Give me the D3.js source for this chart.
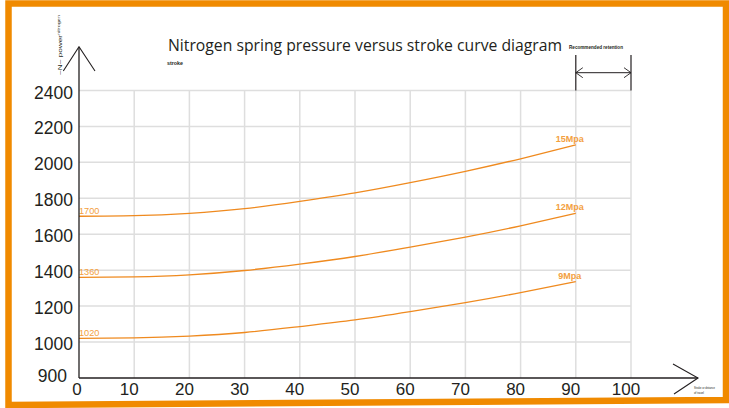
<!DOCTYPE html>
<html><head><meta charset="utf-8">
<script src="https://cdn.jsdelivr.net/npm/d3@7"></script>
<style>html,body{margin:0;padding:0;background:#fff;}svg{display:block;}</style>
</head><body>
<script>
// ---- data ----
const strokes = [0, 10, 20, 30, 40, 50, 60, 70, 80, 90];
const series15 = [1700, 1703, 1716, 1742, 1783, 1830, 1887, 1950, 2020, 2097];
const series12 = [1360, 1363, 1374, 1398, 1434, 1476, 1528, 1584, 1647, 1716];
const series9  = [1020, 1023, 1033, 1053, 1086, 1123, 1169, 1219, 1275, 1336];
const seriesNames = ["15Mpa", "12Mpa", "9Mpa"];
const startLabels = ["1700", "1360", "1020"];
const xTicks = [0, 10, 20, 30, 40, 50, 60, 70, 80, 90, 100];
const yTicks = [900, 1000, 1200, 1400, 1600, 1800, 2000, 2200, 2400];
const title = "Nitrogen spring pressure versus stroke curve diagram";

const W = 729, H = 408;
const svg = d3.select("body").append("svg").attr("width", W).attr("height", H);

// scales (y axis broken between 900 and 1000)
const x = d3.scaleLinear().domain([0, 100]).range([79, 631]);
const y = d3.scaleLinear().domain([900, 1000, 2400]).range([378, 342, 90.5]);

const ink = "#231F20", grid = "#DEDEDE", curveCol = "#EF8A1F", lblCol = "#F3A040";

// border
svg.append("path")
  .attr("d", "M8.5,3.5 L726,3.5 L726,400 L8.5,405 Z")
  .attr("fill", "none").attr("stroke", "#F08A00").attr("stroke-width", 6.5)
  .attr("stroke-linejoin", "miter");

// gridlines
const g = svg.append("g");
g.selectAll("line.h").data(yTicks.filter(d => d > 900)).join("line")
  .attr("x1", x(0)).attr("x2", x(100))
  .attr("y1", d => y(d)).attr("y2", d => y(d))
  .attr("stroke", grid).attr("stroke-width", 1.5);
g.selectAll("line.v").data(xTicks.filter(d => d > 0)).join("line")
  .attr("x1", d => x(d)).attr("x2", d => x(d))
  .attr("y1", y(2400)).attr("y2", y(900))
  .attr("stroke", grid).attr("stroke-width", 1.5);

// curves
const line = d3.line().x((d, i) => x(strokes[i])).y(d => y(d)).curve(d3.curveNatural);
const all = [series15, series12, series9];
all.forEach((s, k) => {
  svg.append("path").attr("d", line(s)).attr("fill", "none")
    .attr("stroke", curveCol).attr("stroke-width", 1.3);
  svg.append("text").attr("x", x(strokes[strokes.length - 1]) - 6).attr("y", y(s[s.length - 1]) - 3)
    .attr("text-anchor", "middle").attr("font-family", "Liberation Sans, Arial, sans-serif")
    .attr("font-size", 9).attr("font-weight", "bold").attr("fill", lblCol).text(seriesNames[k]);
  svg.append("text").attr("x", x(0)).attr("y", y(s[0]) - 2.5)
    .attr("font-family", "Liberation Sans, Arial, sans-serif")
    .attr("font-size", 9.2).attr("fill", lblCol).text(startLabels[k]);
});

// axes lines
svg.append("line").attr("x1", x(0)).attr("x2", x(0)).attr("y1", 47).attr("y2", y(900))
  .attr("stroke", ink).attr("stroke-width", 1.3);
svg.append("line").attr("x1", x(0)).attr("x2", 698).attr("y1", y(900)).attr("y2", y(900))
  .attr("stroke", ink).attr("stroke-width", 1.3);
// y arrow
svg.append("path").attr("d", `M63.3,71 L${x(0)},46.7 L95,71`).attr("fill", "none")
  .attr("stroke", ink).attr("stroke-width", 1.1);
// x arrow
svg.append("path").attr("d", `M673,364 L698,378 L674,394`).attr("fill", "none")
  .attr("stroke", ink).attr("stroke-width", 1.1);

// tick labels
svg.append("g").selectAll("text").data(xTicks).join("text")
  .attr("x", d => x(d) - (d === 0 ? 2 : 5)).attr("y", 394.5)
  .attr("text-anchor", "middle").attr("font-family", "Liberation Sans, Arial, sans-serif")
  .attr("font-size", 17).attr("fill", ink).text(d => d);
svg.append("g").selectAll("text").data(yTicks).join("text")
  .attr("x", d => d === 900 ? 67 : 73).attr("y", d => y(d) + (d === 900 ? 4 : 8))
  .attr("text-anchor", "end").attr("font-family", "Liberation Sans, Arial, sans-serif")
  .attr("font-size", 17.5).attr("fill", ink).text(d => d);

// title
svg.append("text").attr("x", 168).attr("y", 51).attr("font-family", "Open Sans, sans-serif")
  .attr("font-size", 16).attr("fill", ink).attr("textLength", 394).attr("lengthAdjust", "spacingAndGlyphs")
  .text(title);
svg.append("text").attr("x", 167).attr("y", 65).attr("font-family", "Liberation Sans, Arial, sans-serif")
  .attr("font-size", 5).attr("font-weight", "bold").attr("fill", ink)
  .attr("textLength", 16).attr("lengthAdjust", "spacingAndGlyphs").text("stroke");

// recommended retention
svg.append("text").attr("x", 569).attr("y", 49).attr("font-family", "Liberation Sans, Arial, sans-serif")
  .attr("font-size", 5).attr("font-weight", "bold").attr("fill", ink)
  .attr("textLength", 54).attr("lengthAdjust", "spacingAndGlyphs").text("Recommended retention");
[90, 100].forEach(v => {
  svg.append("line").attr("x1", x(v)).attr("x2", x(v)).attr("y1", 55).attr("y2", y(2400))
    .attr("stroke", ink).attr("stroke-width", 1.2);
});
const ay = 72.7;
svg.append("line").attr("x1", x(90)).attr("x2", x(100)).attr("y1", ay).attr("y2", ay)
  .attr("stroke", ink).attr("stroke-width", 1);
svg.append("path").attr("d", `M${x(90) + 7},${ay - 5} L${x(90)},${ay} L${x(90) + 7},${ay + 5}`)
  .attr("fill", "none").attr("stroke", ink).attr("stroke-width", 0.9);
svg.append("path").attr("d", `M${x(100) - 7},${ay - 5} L${x(100)},${ay} L${x(100) - 7},${ay + 5}`)
  .attr("fill", "none").attr("stroke", ink).attr("stroke-width", 0.9);

// x axis name (tiny)
svg.append("text").attr("x", 694).attr("y", 389).attr("font-family", "Liberation Sans, Arial, sans-serif")
  .attr("font-size", 3.2).attr("fill", ink).attr("textLength", 21).attr("lengthAdjust", "spacingAndGlyphs")
  .text("Stroke or distance");
svg.append("text").attr("x", 694).attr("y", 394).attr("font-family", "Liberation Sans, Arial, sans-serif")
  .attr("font-size", 3.2).attr("fill", ink).attr("textLength", 10).attr("lengthAdjust", "spacingAndGlyphs")
  .text("of travel");

// y axis name (rotated, small)
const yl = svg.append("g").attr("transform", "translate(62,75) rotate(-90)");
yl.append("text").attr("x", 0).attr("y", 0).attr("font-family", "Liberation Sans, Arial, sans-serif")
  .attr("font-size", 6).attr("fill", ink).attr("textLength", 40).attr("lengthAdjust", "spacingAndGlyphs")
  .text("~N~ power");
yl.append("text").attr("x", 40).attr("y", -2).attr("font-family", "Liberation Sans, Arial, sans-serif")
  .attr("font-size", 4).attr("fill", ink).attr("textLength", 20).attr("lengthAdjust", "spacingAndGlyphs")
  .text("nitrogen");
</script>
</body></html>
